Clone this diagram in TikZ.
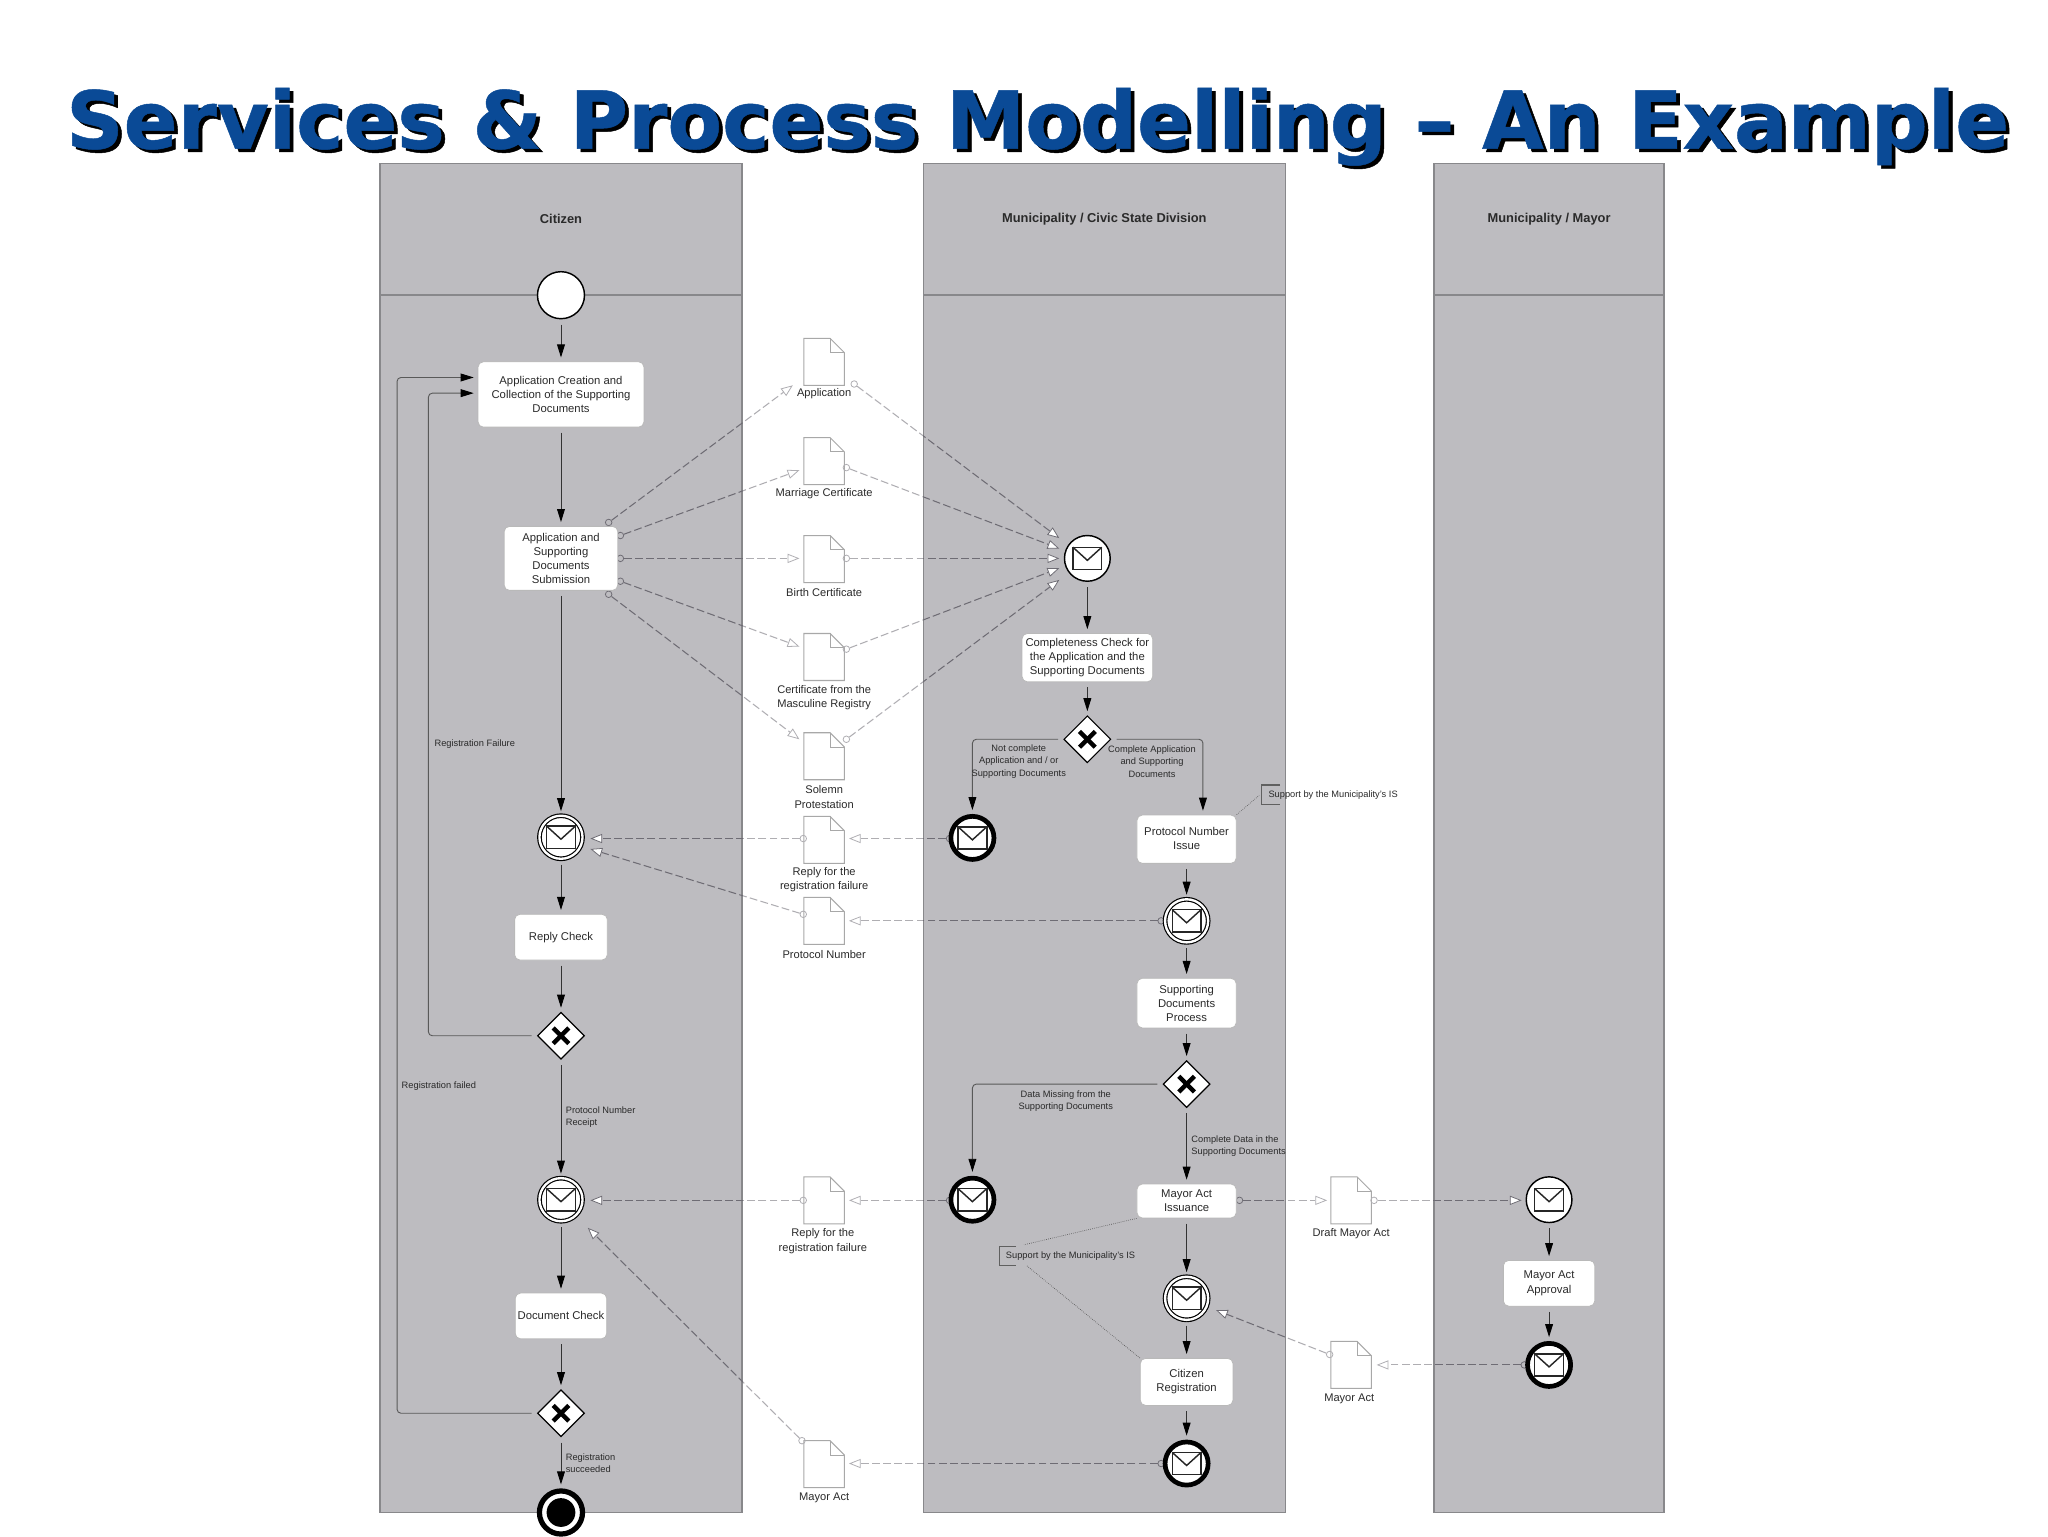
\documentclass[tikz,border=0pt]{standalone}
\usepackage{fontspec}
\setmainfont{Liberation Sans}
\newfontfamily\titlefont[BoldFeatures={FakeBold=0.6}]{DejaVu Sans}
\usetikzlibrary{arrows.meta,calc,shapes.geometric}
\definecolor{lanefill}{HTML}{BDBCC0}
\definecolor{lanedraw}{HTML}{88888B}
\definecolor{titleblue}{HTML}{0A4A96}
\definecolor{flowgray}{HTML}{6E6C74}
\definecolor{txt}{HTML}{2A2A2A}
\tikzset{
  lanebox/.style={draw=lanedraw,fill=lanefill,line width=1pt},
  laneline/.style={draw=lanedraw,line width=1.2pt},
  lanehead/.style={font=\fontsize{9.85}{11}\selectfont\bfseries,text=txt,inner sep=0pt},
  taskbox/.style={draw=gray!55,fill=white,rounded corners=4pt,line width=.6pt,align=center,inner sep=0pt,
    font=\fontsize{8.65}{10.8}\selectfont,text=txt},
  evbase/.style={circle,draw=black,fill=white,inner sep=0pt,minimum size=35pt},
  evplain/.style={evbase,line width=1.1pt},
  evdouble/.style={evbase,line width=.9pt,double=white,double distance=1.8pt,minimum size=33pt},
  evthick/.style={evbase,line width=3.6pt,minimum size=33pt},
  gwbox/.style={diamond,aspect=1,draw=black,fill=white,line width=.9pt,inner sep=0pt,minimum width=36pt,minimum height=36pt},
  xmark/.style={line width=3.4pt,draw=black},
  envline/.style={draw=black!85,line width=1.1pt},
  docnode/.style={inner sep=0pt,minimum width=31pt,minimum height=36pt},
  docshape/.style={draw=black!62,fill=white,line width=.8pt},
  doclabel/.style={align=center,inner sep=0pt,yshift=-.7pt,font=\fontsize{8.5}{10.8}\selectfont,text=txt},
  smalllabel/.style={align=center,inner sep=0pt,yshift=-.5pt,font=\fontsize{7.1}{9.4}\selectfont,text=txt},
  leftlabel/.style={smalllabel,align=left,anchor=west},
  seqflow/.style={draw=black!80,line width=.7pt,shorten <=4pt,shorten >=3pt,
    -{Triangle[length=10pt,width=6pt,fill=black,color=black]}},
  loopflow/.style={seqflow,rounded corners=3pt,draw=black!65},
  dataflow/.style={draw=flowgray,line width=.8pt,dash pattern=on 6pt off 2.5pt,
    -{Triangle[length=9pt,width=7pt,fill=white,color=flowgray,line width=.6pt]}},
  flowport/.style={circle,draw=flowgray,fill=none,line width=.6pt,inner sep=0pt,minimum size=5pt},
  noteline/.style={draw=gray!65!black,line width=.5pt,densely dotted},
  bracket/.style={draw=gray!75!black,line width=.8pt},
  bandveil/.style={fill=white,opacity=.45},
  titletext/.style={inner sep=0pt,anchor=base west,font=\fontsize{61}{66}\selectfont\titlefont\bfseries},
}
\newcommand\envelope[1]{\begin{scope}[shift={(#1)}]
  \draw[envline,fill=white] (-11,-8.5) rectangle (11,8.5);
  \draw[envline] (-11,-8.5) -- (0,1.5) -- (11,-8.5);
\end{scope}}
\newcommand\gway[3]{\node[gwbox] (#1) at (#2,#3) {};
  \begin{scope}[shift={(#1)}]
  \draw[xmark] (-6,-6) -- (6,6); \draw[xmark] (-6,6) -- (6,-6);
  \end{scope}}
\newcommand\msgevent[4]{\node[#1] (#2) at (#3,#4) {}; \envelope{#2}}
\newcommand\docu[3]{\node[docnode] (#1) at (#2,#3) {};
  \begin{scope}[shift={(#1)}]
  \draw[docshape] (-15.5,-18) -- (4.5,-18) -- (15.5,-7) -- (15.5,18) -- (-15.5,18) -- cycle;
  \draw[docshape,fill=none] (4.5,-18) -- (4.5,-7) -- (15.5,-7);
  \end{scope}}
\newcommand\dflow[5]{% name, sx, sy, tx, ty
  \node[flowport] (#1p) at (#2,#3) {};
  \coordinate (#1t) at (#4,#5);
  \draw[dataflow] (#1p) -- (#1t);}
\begin{document}
\begin{tikzpicture}[x=1pt,y=-1pt]
\clip (0,0) rectangle (1568,1176);
\fill[white] (0,0) rectangle (1568,1176);
% lanes
\draw[lanebox] (291,125) rectangle (568,1158);
\draw[lanebox] (707,125) rectangle (984,1158);
\draw[lanebox] (1098,125) rectangle (1274,1158);
\draw[laneline] (291,226) -- (568,226);
\draw[laneline] (707,226) -- (984,226);
\draw[laneline] (1098,226) -- (1274,226);
% title
\node[titletext,text=black] (titleshadow) at (53.4,116.2) {Services \& Process Modelling – An Example};
\node[titletext,text=titleblue] (title) at (50.5,113.7) {Services \& Process Modelling – An Example};
\node[lanehead] (h1) at (429.5,167.5) {Citizen};
\node[lanehead] (h2) at (845.5,167.5) {Municipality / Civic State Division};
\node[lanehead] (h3) at (1186,167.5) {Municipality / Mayor};
% documents
\docu{dA}{631}{277}
\docu{dB}{631}{353}
\docu{dC}{631}{428}
\docu{dD}{631}{503}
\docu{dE}{631}{579}
\docu{dF}{631}{643}
\docu{dG}{631}{705}
\docu{dH}{631}{919}
\docu{dI}{631}{1121}
\docu{dJ}{1034.5}{919}
\docu{dK}{1034.5}{1045}
% data flows
\dflow{a1}{466}{400}{607}{295}
\dflow{a2}{475}{410}{612}{360}
\dflow{a3}{475}{427.5}{612}{427.5}
\dflow{a4}{475}{445}{612}{495}
\dflow{a5}{466}{455}{612}{566}
\dflow{b1}{654}{294}{811}{412}
\dflow{b2}{648}{358}{811}{420}
\dflow{b3}{648}{427.5}{811}{427.5}
\dflow{b4}{648}{497}{811}{435}
\dflow{b5}{648}{566}{811}{444}
\dflow{c1}{727}{642}{650}{642}
\dflow{c2}{615}{642}{452}{642}
\dflow{c3}{889}{705}{650}{705}
\dflow{c4}{615}{700}{452}{650}
\dflow{c5}{727}{919}{650}{919}
\dflow{c6}{615}{919}{452}{919}
\dflow{c7}{889}{1120.5}{650}{1120.5}
\dflow{c8}{614}{1103}{450}{940}
\dflow{c9}{949}{919}{1016}{919}
\dflow{c10}{1052}{919}{1165}{919}
\dflow{c11}{1167}{1045}{1054}{1045}
\dflow{c12}{1018}{1037}{931}{1003}
% lighter flows over the white bands
\fill[bandveil] (568.6,130) rectangle (706.4,1176);
\fill[bandveil] (984.6,130) rectangle (1097.4,1176);
% citizen lane
\node[evplain,minimum size=36pt] (start) at (429.5,226) {};
\node[taskbox,minimum width=127pt,minimum height=50pt] (app) at (429.5,302) {Application Creation and\\Collection of the Supporting\\Documents};
\node[taskbox,minimum width=87pt,minimum height=49pt] (sub) at (429.5,427.5) {Application and\\Supporting\\Documents\\Submission};
\msgevent{evdouble}{ev1}{429.5}{641}
\node[taskbox,minimum width=71pt,minimum height=35pt] (reply) at (429.5,717.5) {Reply Check};
\gway{gw1}{429.5}{793}
\msgevent{evdouble}{ev2}{429.5}{918.5}
\node[taskbox,minimum width=70pt,minimum height=35pt] (check) at (429.5,1007.5) {Document Check};
\gway{gw2}{429.5}{1082}
\node[evthick,line width=4pt,minimum size=33pt] (final) at (429.5,1158) {};
\fill[black] (final) circle (11);
% civic lane
\msgevent{evplain}{m1}{832.5}{427.5}
\node[taskbox,minimum width=100pt,minimum height=37pt] (compl) at (832.5,503.5) {Completeness Check for\\the Application and the\\Supporting Documents};
\gway{gw3}{832.5}{566}
\msgevent{evthick}{m2}{744.5}{641.5}
\node[taskbox,minimum width=76pt,minimum height=37pt,text depth=0pt] (pnum) at (908.5,642.5) {\raisebox{1pt}{\shortstack{Protocol Number\\[2pt]Issue}}};
\msgevent{evdouble}{m3}{908.5}{705}
\node[taskbox,minimum width=76pt,minimum height=38pt] (supp) at (908.5,768) {Supporting\\Documents\\Process};
\gway{gw4}{908.5}{830}
\msgevent{evthick}{m4}{744.5}{918.5}
\node[taskbox,minimum width=76pt,minimum height=26pt] (issu) at (908.5,919.5) {Mayor Act\\Issuance};
\msgevent{evdouble}{m5}{908.5}{994}
\node[taskbox,minimum width=71pt,minimum height=36pt] (creg) at (908.5,1058) {Citizen\\Registration};
\msgevent{evthick}{m6}{908.5}{1120.5}
% mayor lane
\msgevent{evplain}{y1}{1186}{918.5}
\node[taskbox,minimum width=70pt,minimum height=35pt] (appr) at (1186,982.5) {Mayor Act\\Approval};
\msgevent{evthick}{y2}{1186}{1045}
% document labels
\node[doclabel] (lA) at (631,301) {Application};
\node[doclabel] (lB) at (631,377) {Marriage Certificate};
\node[doclabel] (lC) at (631,453) {Birth Certificate};
\node[doclabel] (lD) at (631,533.5) {Certificate from the\\Masculine Registry};
\node[doclabel] (lE) at (631,609.5) {Solemn\\Protestation};
\node[doclabel] (lF) at (631,672.5) {Reply for the\\registration failure};
\node[doclabel] (lG) at (631,730) {Protocol Number};
\node[doclabel] (lH) at (630,949.5) {Reply for the\\registration failure};
\node[doclabel] (lI) at (631,1146) {Mayor Act};
\node[doclabel] (lJ) at (1034.5,944) {Draft Mayor Act};
\node[doclabel] (lK) at (1033,1070) {Mayor Act};
% sequence flows
\draw[seqflow] (start) -- (app);
\draw[seqflow] (app) -- (sub);
\draw[seqflow] (sub) -- (ev1);
\draw[seqflow] (ev1) -- (reply);
\draw[seqflow] (reply) -- (gw1);
\draw[seqflow] (gw1) -- (ev2);
\draw[seqflow] (ev2) -- (check);
\draw[seqflow] (check) -- (gw2);
\draw[seqflow] (gw2) -- (final);
\draw[loopflow] (gw1) -- (328,793) -- (328,301) -- ($(app.west)+(0,-1)$);
\draw[loopflow] (gw2) -- (304,1082) -- (304,289) -- ($(app.west)+(0,-13)$);
\draw[seqflow] (m1) -- (compl);
\draw[seqflow] (compl) -- (gw3);
\draw[loopflow] (gw3) -- (744.5,566) -- (m2);
\draw[loopflow] (gw3) -- (921,566) -- ($(pnum.north)+(12.5,0)$);
\draw[seqflow] (pnum) -- (m3);
\draw[seqflow] (m3) -- (supp);
\draw[seqflow] (supp) -- (gw4);
\draw[loopflow] (gw4) -- (744.5,830) -- (m4);
\draw[seqflow] (gw4) -- (issu);
\draw[seqflow] (issu) -- (m5);
\draw[seqflow] (m5) -- (creg);
\draw[seqflow] (creg) -- (m6);
\draw[seqflow] (y1) -- (appr);
\draw[seqflow] (appr) -- (y2);
% flow labels
\node[smalllabel] (t1) at (363.5,569) {Registration Failure};
\node[smalllabel] (t2) at (336,831) {Registration failed};
\node[leftlabel] (t3) at (433,855) {Protocol Number\\Receipt};
\node[leftlabel] (t4) at (433,1120) {Registration\\succeeded};
\node[smalllabel] (t5) at (780,582.5) {Not complete\\Application and / or\\Supporting Documents};
\node[smalllabel] (t6) at (882,582.5) {Complete Application\\and Supporting\\Documents};
\node[smalllabel] (t7) at (816,842.5) {Data Missing from the\\Supporting Documents};
\node[leftlabel] (t8) at (912,877) {Complete Data in the\\Supporting Documents};
% annotations
\node[leftlabel] (n1) at (971,608) {Support by the Municipality's IS};
\draw[bracket] (980,601) -- (966,601) -- (966,616) -- (980,616);
\coordinate (n1a) at (964,609);
\draw[noteline] (pnum.north east) -- (n1a);
\node[leftlabel] (n2) at (770,961) {Support by the Municipality's IS};
\draw[bracket] (778,954) -- (765,954) -- (765,969) -- (778,969);
\coordinate (n2a) at (784,953);
\coordinate (n2b) at (786,969);
\draw[noteline] (issu.south west) -- (n2a);
\draw[noteline] (creg.north west) -- (n2b);
\end{tikzpicture}
\end{document}
